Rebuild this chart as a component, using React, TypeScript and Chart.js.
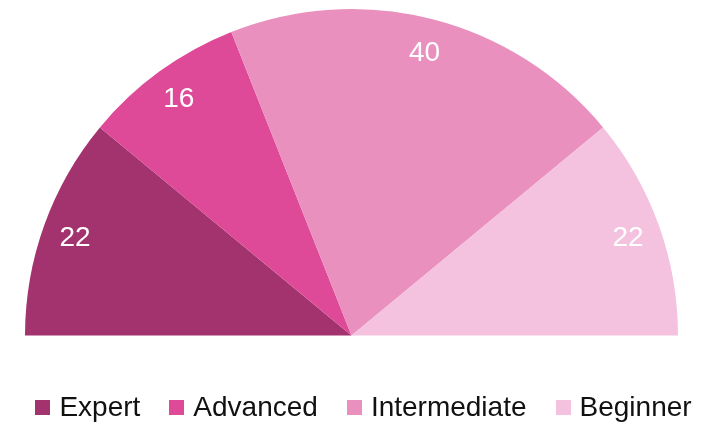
import React, { useEffect, useRef } from "react";
import { Chart, registerables } from "chart.js";

Chart.register(...registerables);

const categories = ["Expert", "Advanced", "Intermediate", "Beginner"];
const values = [22, 16, 40, 22];
const colors = ["#A3336E", "#DF4A98", "#EA90BF", "#F4C1DE"];

const FONT = "'Liberation Sans', Arial, sans-serif";

const labelPlugin = {
  id: "sliceLabels",
  afterDatasetsDraw(chart: any) {
    const ctx = chart.ctx;
    const meta = chart.getDatasetMeta(0);
    ctx.save();
    ctx.fillStyle = "#ffffff";
    ctx.font = `28px ${FONT}`;
    ctx.textAlign = "center";
    ctx.textBaseline = "middle";
    meta.data.forEach((arc: any, i: number) => {
      const { x, y, startAngle, endAngle, outerRadius } = arc.getProps(
        ["x", "y", "startAngle", "endAngle", "outerRadius"],
        true
      );
      const mid = (startAngle + endAngle) / 2;
      const r = outerRadius * 0.9;
      ctx.fillText(String(values[i]), x + Math.cos(mid) * r, y + Math.sin(mid) * r + 2);
    });
    ctx.restore();
  },
};

export default function App() {
  const ref = useRef<HTMLCanvasElement | null>(null);

  useEffect(() => {
    if (!ref.current) return;
    const chart = new Chart(ref.current, {
      type: "pie",
      data: {
        labels: categories,
        datasets: [
          {
            data: values,
            backgroundColor: colors,
            borderWidth: 0,
          },
        ],
      },
      options: {
        animation: false,
        responsive: false,
        rotation: -90,
        circumference: 180,
        layout: { padding: { top: 9, left: 25, right: 42, bottom: 88.5 } },
        plugins: {
          legend: { display: false },
          tooltip: { enabled: false },
        },
      },
      plugins: [labelPlugin],
    });
    return () => chart.destroy();
  }, []);

  return (
    <div
      style={{
        position: "fixed",
        left: 0,
        top: 0,
        width: 720,
        height: 424,
        background: "#ffffff",
        overflow: "hidden",
      }}
    >
      <canvas ref={ref} width={720} height={424} style={{ position: "absolute", left: 0, top: 0 }} />
      <div
        style={{
          position: "absolute",
          left: 0,
          top: 389,
          width: 727,
          height: 36,
          display: "flex",
          justifyContent: "center",
          alignItems: "center",
          fontFamily: FONT,
          fontSize: 28,
          color: "#111111",
          gap: 29,
        }}
      >
        {categories.map((c, i) => (
          <div key={c} style={{ display: "flex", alignItems: "center", gap: 9 }}>
            <span style={{ width: 15, height: 15, background: colors[i], display: "inline-block" }} />
            <span style={{ lineHeight: "36px" }}>{c}</span>
          </div>
        ))}
      </div>
    </div>
  );
}
